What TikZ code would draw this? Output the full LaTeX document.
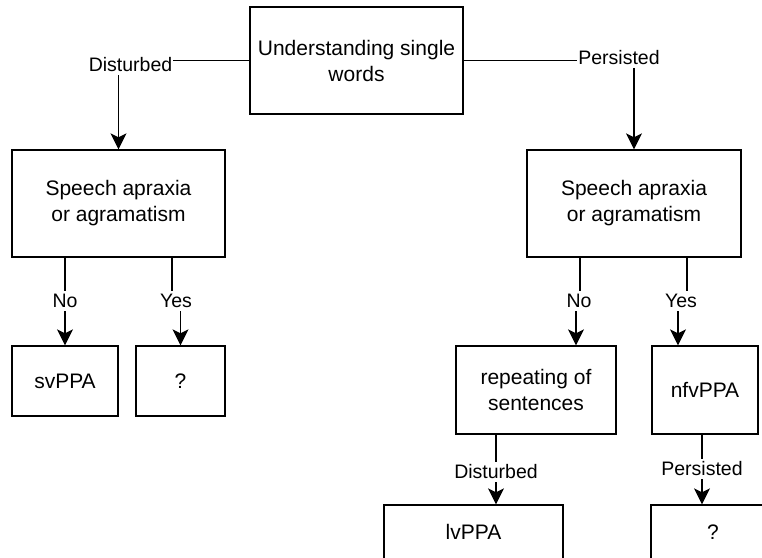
\documentclass[tikz,border=0pt]{standalone}
\usepackage{fontspec}
\setmainfont{Liberation Sans}
\usetikzlibrary{arrows.meta,positioning,calc}

\tikzset{
    box/.style={draw, line width=1.3pt, align=center, inner sep=0pt, font=\fontsize{21}{26}\selectfont},
    lbl/.style={inner xsep=1pt, inner ysep=3pt, font=\fontsize{19.5}{22}\selectfont},
    ln/.style={line width=1.3pt},
    arr/.style={line width=1.3pt, -{Stealth[length=16pt, width=16pt, inset=4pt]}}
}

\begin{document}
\begin{tikzpicture}[x=1pt, y=-1pt]
    \useasboundingbox (0,0) rectangle (762,557);
    \clip (0,0) rectangle (762,557);

    % First question
    \node[box, minimum width=213pt, minimum height=107pt] (words) at (356.5,60.5) {Understanding single\\words};
    \node[lbl] (dist1) at (130.5,65) {Disturbed};
    \node[lbl] (pers1) at (619,57.5) {Persisted};

    % Second level
    \node[box, minimum width=213pt, minimum height=107pt] (sa1) at (118.5,203.5) {Speech apraxia\\or agramatism};
    \node[box, minimum width=214pt, minimum height=107pt] (sa2) at (634,203.5) {Speech apraxia\\or agramatism};

    % Answers below the speech boxes
    \node[lbl] (no1) at (65,301) {No};
    \node[lbl] (yes1) at (176,301) {Yes};
    \node[lbl] (no2) at (579,301) {No};
    \node[lbl] (yes2) at (681,301) {Yes};

    % Third level
    \node[box, minimum width=106pt, minimum height=70pt] (sv) at (65,381) {svPPA};
    \node[box, minimum width=89pt, minimum height=70pt] (qa) at (180.5,381) {?};
    \node[box, minimum width=160pt, minimum height=88pt] (rep) at (536,390) {repeating of\\sentences};
    \node[box, minimum width=106pt, minimum height=88pt] (nfv) at (705,390) {nfvPPA};

    % Last level (cut off at the bottom)
    \node[lbl] (dist2) at (496,472) {Disturbed};
    \node[lbl] (pers2) at (702,469) {Persisted};
    \node[box, minimum width=179pt, minimum height=54pt] (lv) at (473.5,532) {lvPPA};
    \node[box, minimum width=124pt, minimum height=54pt] (qb) at (713,532) {?};

    % Connectors from the first question
    \draw[ln] (words.west) -- (words.west -| dist1.east);
    \draw[arr] (dist1.south -| sa1.north) -- (sa1.north);
    \draw[ln] (words.east) -- (words.east -| pers1.west);
    \draw[arr] (pers1.south -| sa2.north) -- (sa2.north);

    % Connectors of the left speech box
    \draw[ln] (sa1.south -| sv.north) -- (no1.north -| sv.north);
    \draw[arr] (no1.south -| sv.north) -- (sv.north);
    \draw[ln] ($(sa1.south -| yes1)+(-4,0)$) -- ($(yes1.north)+(-4,0)$);
    \draw[arr] (yes1.south -| qa.north) -- (qa.north);

    % Connectors of the right speech box
    \draw[ln] ($(sa2.south -| no2)+(1,0)$) -- ($(no2.north)+(1,0)$);
    \draw[arr] ($(no2.south)+(-3,0)$) -- ($(no2.south |- rep.north)+(-3,0)$);
    \draw[ln] ($(sa2.south -| yes2)+(6,0)$) -- ($(yes2.north)+(6,0)$);
    \draw[arr] ($(yes2.south)+(-3,0)$) -- ($(yes2.south |- nfv.north)+(-3,0)$);

    % Connectors to the last level
    \draw[ln] (rep.south -| dist2) -- (dist2.north);
    \draw[arr] (dist2.south) -- (dist2 |- lv.north);
    \draw[ln] (nfv.south -| pers2) -- (pers2.north);
    \draw[arr] (pers2.south) -- (pers2 |- qb.north);
\end{tikzpicture}
\end{document}
